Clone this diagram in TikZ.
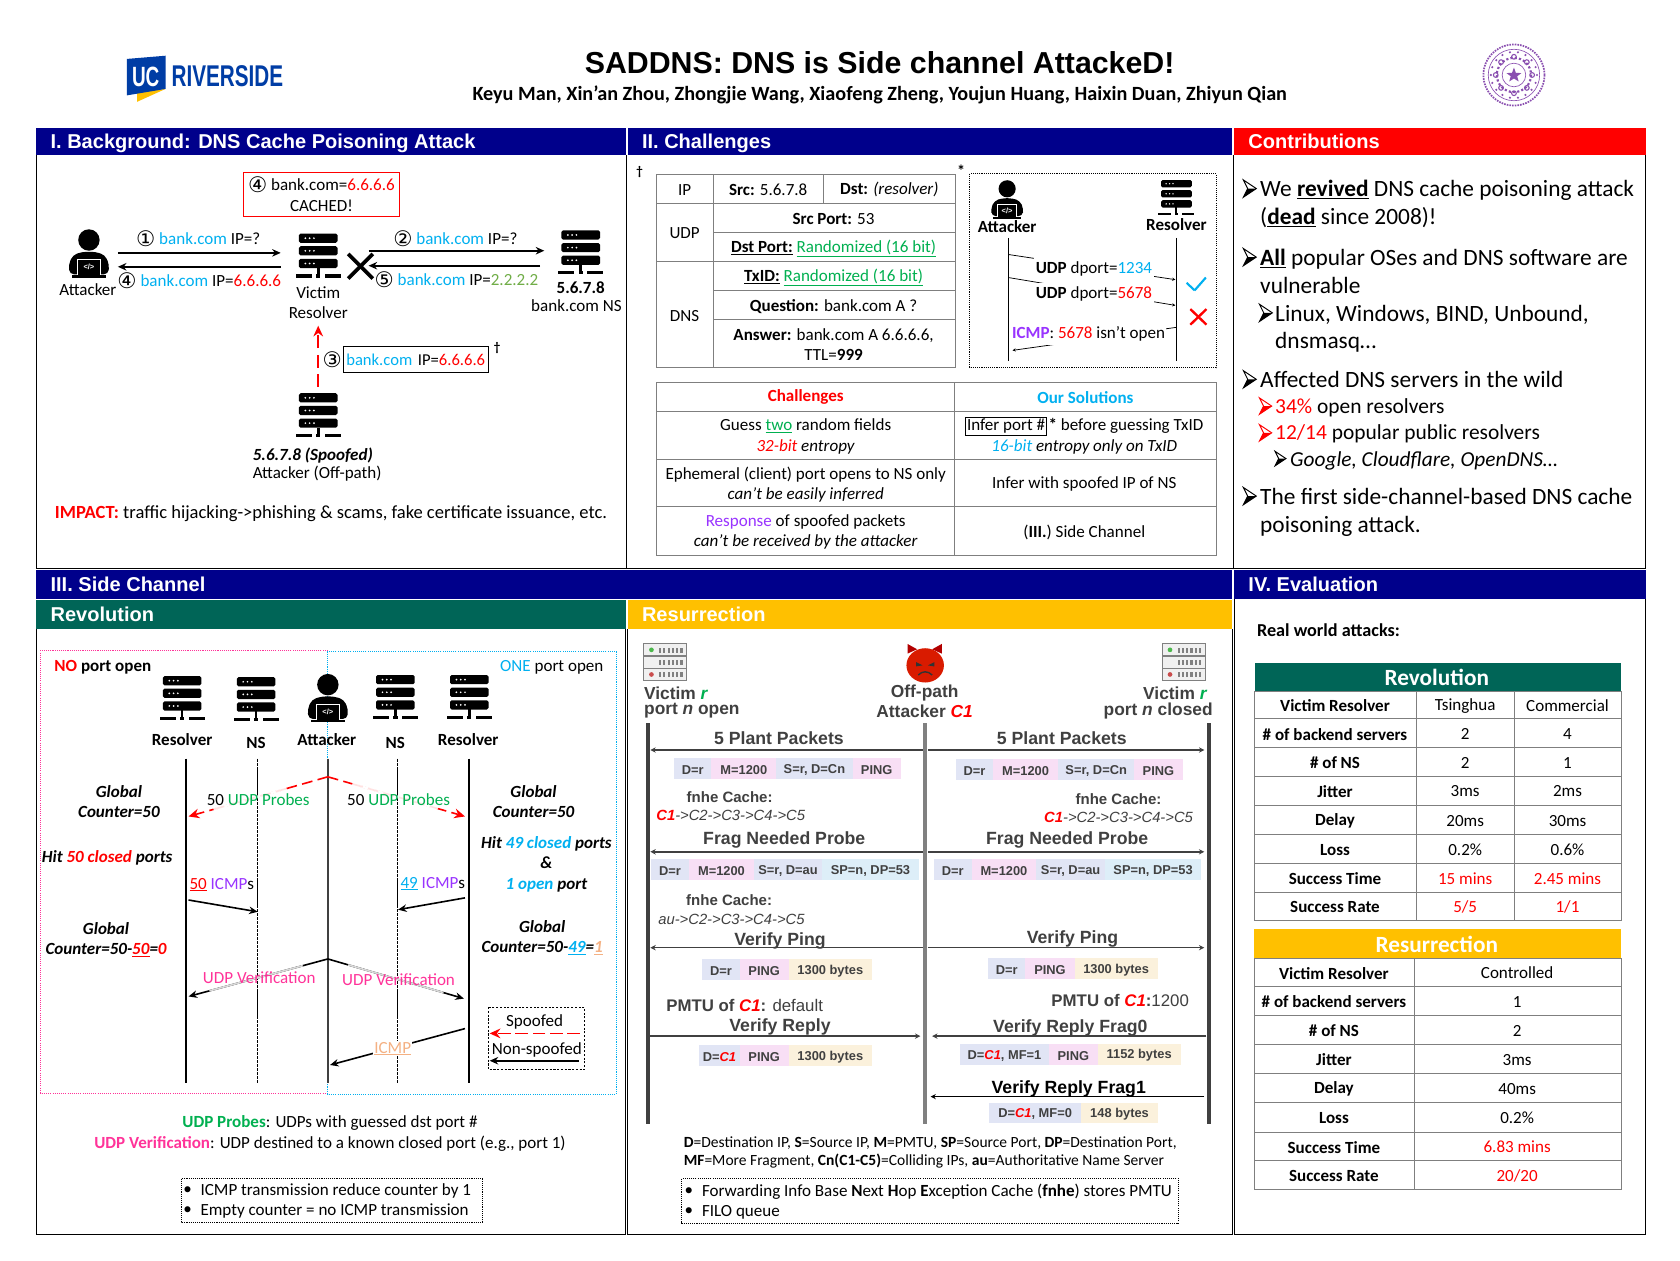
\documentclass[tikz,border=0pt]{standalone}
\usepackage{fontspec}
\setmainfont{Carlito}
\newfontfamily\arial{Liberation Sans}
\newfontfamily\djv{DejaVu Sans}
\usetikzlibrary{arrows.meta,calc}
\definecolor{hblue}{HTML}{00008B}
\definecolor{hgreen}{HTML}{006557}
\definecolor{hgold}{HTML}{FFC000}
\definecolor{cy}{HTML}{00B0F0}
\definecolor{gn}{HTML}{00B050}
\definecolor{lg}{HTML}{70AD47}
\definecolor{pu}{HTML}{9933FF}
\definecolor{pk}{HTML}{FF3399}
\definecolor{og}{HTML}{F4B183}
\definecolor{lav}{HTML}{E1E5F5}
\definecolor{pkb}{HTML}{F8DFF5}
\definecolor{bei}{HTML}{FBF1DC}
\definecolor{lbl}{HTML}{DDEEF8}
\definecolor{tl}{HTML}{7F7F7F}
\definecolor{ucb}{HTML}{003DA5}
\definecolor{seal}{HTML}{8A4FB0}
\definecolor{dt}{HTML}{404040}
\newcommand\fsz[2]{\fontsize{#1}{#2}\selectfont}
\newcounter{tn}\newcounter{cn}
\newcommand\N[4][]{\stepcounter{tn}\node[txt,#1] (t\thetn) at (#2) {#3#4};}
\newcommand\Cn[3][]{\stepcounter{cn}\coordinate (a\thecn) at (#2);\coordinate (b\thecn) at (#3);\draw[#1] (a\thecn)--(b\thecn);}
\newcommand\Ov[3]{\draw[#1] ($(a\thecn)!#2!(b\thecn)$)--($(a\thecn)!#3!(b\thecn)$);}
\newcommand\cd[1]{\raisebox{-1.6pt}{\djv\fsz{20}{19}#1}}
\newcommand\bk{\textcolor{cy}{bank.com}}
\newcommand\rd[1]{\textcolor{red}{#1}}
\newcommand\Hd[6]{\fill[#5] (#1,#2) rectangle (#3,#4);\N[anchor=base west,text=white,font=\arial\bfseries\fsz{18.7}{22}]{#1+13,{(#2+#4)/2+6}}{}{#6}}
\newcommand\Bnd[6]{\fill[#5] (#1,#3) rectangle (#2,#4);\N[band]{{(#1+#2)/2},{(#3+#4)/2}}{}{#6}}
\newcommand\Bul[4][black]{\begin{scope}[shift={(#2,#3)},scale=#4]\draw[#1,line width=.9pt,fill=white,line join=miter] (0,-8)--(12,0)--(0,8)--(4,0)--cycle;\fill[#1] (0,8)--(12,0)--(4,0)--cycle;\end{scope}}
\newcommand\CC{->C2->C3->C4->C5}
\tikzset{
 x=1pt,y=-1pt,
 txt/.style={inner sep=0pt,align=center,yshift=-.7pt,font=\fsz{15.9}{19}},
 bi/.style={font=\bfseries\itshape\fsz{15.9}{19}},
 band/.style={txt,font=\arial\bfseries\fsz{12}{13},text=dt},
 res/.style={txt,font=\arial\bfseries\fsz{16.5}{18},text=dt},
 lab/.style={font=\arial\bfseries\fsz{16.2}{18},text=dt},
 cch/.style={font=\arial\bfseries\fsz{14}{16}},
 cci/.style={font=\arial\itshape\fsz{13.8}{16}},
 rule/.style={tl,line width=.9pt},
 arr/.style={line width=1.5pt,-{Stealth[length=8pt,width=7pt]}},
 thinarr/.style={line width=.7pt},
 redarr/.style={line width=1.5pt,red,dash pattern=on 12pt off 6pt,-{Stealth[length=10pt,width=9pt]}},
 rarr/.style={line width=1.4pt,dt,-{Stealth[length=5pt,width=5pt]}},
 srv/.pic={
  \foreach \q in {0,11.8,23.6}{\fill[black,rounded corners=1.5pt] (-18,\q) rectangle (18,\q+8.6);
   \foreach \w in {-12,-8,-4}{\fill[white] (\w,\q+4.3) circle (.9);}}
  \fill (-1.2,32) rectangle (1.2,39);
  \fill (-21,38) rectangle (-6,41);\fill (-2,38) rectangle (2,41);\fill (6,38) rectangle (21,41);
 },
 atk/.pic={
  \fill (0,-11) circle (10);
  \fill[rounded corners=4pt] (-18,21) -- (-19,12) -- (-15,3) -- (-6,0) -- (6,0) -- (15,3) -- (19,12) -- (18,21) -- cycle;
  \fill[black,draw=white,line width=.8pt] (-11,7) rectangle (11,22);
  \fill (-16,22) rectangle (16,24);
  \node[inner sep=0pt,text=white,font=\arial\bfseries\fsz{7}{7}] at (0,14.5) {</>};
 },
 gsrv/.pic={
  \foreach \q in {0,11.5,23}{\draw[gray,fill=gray!12,line width=1pt] (-20,\q) rectangle (20,\q+11);
   \foreach \w in {-6,-2,2,6,10,14}{\fill[gray] (\w,\q+3.5) rectangle (\w+2,\q+8);}}
  \fill[green!60!black!70] (-13,5.5) circle (2.2);\fill[red!70!black!70] (-13,28.5) circle (2.2);
 },
}
\begin{document}
\begin{tikzpicture}
\path[use as bounding box,fill=white] (0,0) rectangle (1568,1176);
% title
\N[font=\arial\bfseries\fsz{28.3}{30}]{821,58}{}{SADDNS: DNS is Side channel AttackeD!}
\N[font=\bfseries\fsz{18.85}{20}]{821,87.5}{}{Keyu Man, Xin’an Zhou, Zhongjie Wang, Xiaofeng Zheng, Youjun Huang, Haixin Duan, Zhiyun Qian}
% logo
\fill[hgold] (128,95) -- (154.5,83) -- (128,86) -- cycle;
\fill[ucb] (118.5,55) -- (154.5,52) -- (154.5,83) -- (118.5,89) -- cycle;
\N[text=white,font=\arial\bfseries\fsz{26}{28},xscale=.68]{136,71}{}{UC}
\N[anchor=west,text=ucb,font=\arial\bfseries\fsz{28}{30},xscale=.69]{160,70}{}{RIVERSIDE}
% seal
\draw[seal,line width=1.6pt,dash pattern=on 1.5pt off 1pt] (1413,70) circle (28.5);
\draw[seal,line width=.6pt] (1413,70) circle (24);
\draw[seal,line width=2pt,dash pattern=on 2pt off 2pt] (1413,70) circle (16);
\draw[seal,line width=.6pt] (1413,70) circle (11);
\foreach \a in {0,45,...,315}{\draw[seal,line width=1pt] ($(1413,70)+(\a:17)$) circle (2.2);}
\foreach \a in {0,20,...,340}{\fill[seal] ($(1413,70)+(\a:21.5)$) circle (1.1);}
\fill[seal] (1413,63) -- (1414.8,68) -- (1420,68.2) -- (1416,71.2) -- (1417.4,76) -- (1413,73.3) -- (1408.6,76) -- (1410,71.2) -- (1406,68.2) -- (1411.2,68) -- cycle;
% headers
\Hd{34}{119}{584}{145}{hblue}{I. Background: DNS Cache Poisoning Attack}
\Hd{586}{119}{1150}{145}{hblue}{II. Challenges}
\Hd{1152}{119}{1536}{145}{red}{Contributions}
\Hd{34}{532}{1150}{559}{hblue}{III. Side Channel}
\Hd{1152}{532}{1536}{559}{hblue}{IV. Evaluation}
\Hd{34}{560}{584}{587}{hgreen}{Revolution}
\Hd{586}{560}{1150}{587}{hgold}{Resurrection}
% frames
\draw[line width=1.1pt] (34,145) -- (34,530.5) -- (1536,530.5) -- (1536,145);
\draw[line width=.8pt] (585,145) -- (585,530.5);
\draw[line width=1.1pt] (1151,145) -- (1151,530.5);
\draw[line width=1.1pt] (34,587) -- (34,1152) -- (584,1152) -- (584,587);
\draw[line width=1.1pt] (586,587) -- (586,1152) -- (1150,1152) -- (1150,587);
\draw[line width=1.1pt] (1152,559) -- (1152,1152) -- (1536,1152) -- (1536,559);
% ---------- I
\draw[red,line width=1pt] (227,161) rectangle (373,202);
\N{300,180.5}{}{\cd{④} bank.com=\rd{6.6.6.6}\\CACHED!}
\pic at (83,235) {atk};
\N{82,270}{}{Attacker}
\Cn[arr]{110,236}{262,236}
\N{185,222}{}{\cd{①} \bk{} IP=?}
\Cn[arr]{262,249}{110,249}
\N{186,261}{}{\cd{④} \bk{} IP=\rd{6.6.6.6}}
\pic at (297,218) {srv};
\N{297,282}{}{Victim\\Resolver}
\Cn[line width=3.5pt]{325,237}{348,260}
\Cn[line width=3.5pt]{348,237}{325,260}
\Cn[arr]{344,234}{508,234}
\N{425,222}{}{\cd{②} \bk{} IP=?}
\Cn[arr]{504,248}{344,248}
\N{426,260}{}{\cd{⑤} \bk{} IP=\textcolor{lg}{2.2.2.2}}
\pic at (542,215) {srv};
\N{542,268}{}{\textbf{5.6.7.8}}
\N{538,285}{}{bank.com NS}
\Cn[redarr]{297,361}{297,304}
\N{310,335}{}{\cd{③}}
\N[draw,line width=.9pt,minimum height=24pt,text width=135pt,font=\fsz{15.5}{19}]{388,335}{}{\bk{} IP=\rd{6.6.6.6}}
\N[font=\bfseries\fsz{12}{12}]{464,324}{}{†}
\pic at (297,367) {srv};
\N{292,424}{}{\textbf{\textit{5.6.7.8 (Spoofed)}}}
\N{296,441}{}{Attacker (Off-path)}
\N[anchor=west,font=\fsz{17.3}{19}]{51,479}{}{\rd{\textbf{IMPACT:}} traffic hijacking->phishing \& scams, fake certificate issuance, etc.}
% ---------- II table 1
\N[font=\bfseries\fsz{12}{12}]{597,160}{}{†}
\N[font=\bfseries\fsz{15}{15}]{897,159}{}{*}
\draw[rule] (613,163) rectangle (892,343);
\draw[rule] (666,163) -- (666,343);
\draw[rule] (769,163) -- (769,190);
\draw[rule] (613,190) -- (892,190);
\draw[rule] (666,217) -- (892,217);
\draw[rule] (613,244) -- (892,244);
\draw[rule] (666,271.5) -- (892,271.5);
\draw[rule] (666,298.5) -- (892,298.5);
\N{639,176.5}{}{IP}
\N{717,176.5}{}{\textbf{Src:} 5.6.7.8}
\N{830,176.5}{}{\textbf{Dst:} \textit{(resolver)}}
\N{639,217}{}{UDP}
\N{778,203.5}{}{\textbf{Src Port:} 53}
\N{778,231}{}{\underline{\textbf{Dst Port:}} \textcolor{gn}{\underline{Randomized (16 bit)}}}
\N{639,294}{}{DNS}
\N{778,258}{}{\underline{\textbf{TxID:}} \textcolor{gn}{\underline{Randomized (16 bit)}}}
\N{778,285}{}{\textbf{Question:} bank.com A ?}
\N{778,321}{}{\textbf{Answer:} bank.com A 6.6.6.6,\\TTL=\textbf{999}}
% dotted box
\draw[line width=.9pt,dash pattern=on 1pt off 1pt] (905,162) rectangle (1135,343);
\pic[scale=.8] at (940,185) {atk};
\N{940,211}{}{\textbf{Attacker}}
\pic[scale=.8] at (1098,168) {srv};
\N{1098,209}{}{\textbf{Resolver}}
\coordinate (la) at (941,222);\coordinate (lb) at (941,337);\draw[line width=.9pt] (la)--(lb);
\coordinate (lc) at (1098,222);\coordinate (ld) at (1098,337);\draw[line width=.9pt] (lc)--(ld);
\Cn[thinarr,-{Stealth[length=3pt,width=3pt]}]{941,237.5}{1097,261}
\N[fill=white,minimum height=22pt,inner xsep=2pt]{1021,250}{}{\textbf{UDP} dport=\textcolor{cy}{1234}}
\Cn[thinarr,-{Stealth[length=3pt,width=3pt]}]{941,259}{1097,285}
\N[fill=white,minimum height=22pt,inner xsep=2pt]{1021,274}{}{\textbf{UDP} dport=\rd{5678}}
\Cn[thinarr,-{Stealth[length=3pt,width=3pt]}]{1098,305.5}{945,327}
\N[fill=white,minimum height=20pt,inner xsep=1pt]{1016,311}{}{\textcolor{pu}{\textbf{ICMP}}: \rd{5678} isn’t open}
\Cn[cy,line width=2pt]{1107.5,264}{1115,271}
\Cn[cy,line width=2pt]{1115,271}{1125.5,259}
\Cn[red,line width=2.2pt]{1111,288.5}{1126,303}
\Cn[red,line width=2.2pt]{1126,288.5}{1111,303}
% table 2
\draw[rule] (613,357) rectangle (1135,518);
\draw[rule] (891,357) -- (891,518);
\foreach \q in {384,429,473}{\draw[rule] (613,\q) -- (1135,\q);}
\N{752,370}{}{\rd{\textbf{Challenges}}}
\N{1013,370}{}{\textcolor{cy}{\textbf{Our Solutions}}}
\N{752,406.5}{}{Guess \textcolor{gn}{\underline{two}} random fields\\\textit{\rd{32-bit} entropy}}
\N[draw,line width=.8pt,inner sep=1.5pt]{939,397}{}{Infer port \#}
\N[anchor=west]{978.5,397}{}{\textbf{*} before guessing TxID}
\N{1012,416}{}{\textit{\textcolor{cy}{16-bit} entropy only on TxID}}
\N{752,451.5}{}{Ephemeral (client) port opens to NS only\\\textit{can’t be easily inferred}}
\N{1012,451}{}{Infer with spoofed IP of NS}
\N{752,496}{}{\textcolor{pu}{Response} of spoofed packets\\\textit{can’t be received by the attacker}}
\N{1012,496}{}{(\textbf{III.}) Side Channel}
% ---------- Contributions
\newcommand\CL[3][21.8]{\N[anchor=base west,font=\fsz{#1}{#1}]{#2}{}{#3}}
\Bul{1160.5}{176}{1}\Bul{1160.5}{240}{1}\Bul{1175.5}{292}{1}\Bul{1160.5}{354}{1}\Bul{1160.5}{463}{1}
\Bul[red]{1175.5}{379}{.95}\Bul[red]{1175.5}{404}{.95}\Bul{1190}{428}{.85}
\CL{1176,183}{We \underline{\textbf{revived}} DNS cache poisoning attack}
\CL{1176,209}{(\underline{\textbf{dead}} since 2008)!}
\CL{1176,247}{\underline{\textbf{All}} popular OSes and DNS software are}
\CL{1176,273}{vulnerable}
\CL{1190,299}{Linux, Windows, BIND, Unbound,}
\CL{1190,325}{dnsmasq…}
\CL{1176,361}{Affected DNS servers in the wild}
\CL[20]{1190,385.5}{\rd{34\%} open resolvers}
\CL[20]{1190,409.5}{\rd{12/14} popular public resolvers}
\CL[19.9]{1204,434.5}{\textit{Google, Cloudflare, OpenDNS…}}
\CL{1176,470}{The first side-channel-based DNS cache}
\CL{1176,496}{poisoning attack.}
% ---------- III Revolution
\draw[pk,line width=.7pt,dash pattern=on 1pt off 1pt] (38,607) rectangle (306,1020);
\draw[cy,line width=.7pt,dash pattern=on 1pt off 1pt] (306,608) rectangle (575,1021);
\N{96,622}{}{\rd{\textbf{NO}} \textbf{port open}}
\N{515,622}{}{\textcolor{cy}{ONE} port open}
\pic at (170,631) {srv};
\pic at (239,632) {srv};
\pic at (369,630) {srv};
\pic at (438,630) {srv};
\pic at (306,650) {atk};
\N{170,690}{}{\textbf{Resolver}}
\N{239,693}{}{\textbf{NS}}
\N{305,690}{}{\textbf{Attacker}}
\N{369,693}{}{\textbf{NS}}
\N{437,690}{}{\textbf{Resolver}}
\coordinate (r1) at (173.5,708);\coordinate (r1e) at (173.5,1011);\draw[line width=1.2pt] (r1)--(r1e);
\coordinate (r2) at (240.5,708);\coordinate (r2e) at (240.5,1011);\draw[line width=.7pt,dash pattern=on 3pt off .7pt] (r2)--(r2e);
\coordinate (r3) at (306,708);\coordinate (r3e) at (306,1011);\draw[line width=1.5pt,dt] (r3)--(r3e);
\coordinate (r4) at (371,708);\coordinate (r4e) at (371,1011);\draw[line width=.7pt,dash pattern=on 3pt off .7pt] (r4)--(r4e);
\coordinate (r5) at (437.7,708);\coordinate (r5e) at (437.7,1011);\draw[line width=1.2pt] (r5)--(r5e);
\Cn[redarr,dash pattern=on 10pt off 5pt]{306,725}{176,762}
\Ov{white,line width=2.4pt}{.3}{.82}
\Ov{pink!45,line width=1.5pt,dash pattern=on 10pt off 5pt}{.3}{.82}
\Cn[redarr,dash pattern=on 10pt off 5pt]{306,725}{434,762}
\Ov{white,line width=2.4pt}{.18}{.8}
\Ov{pink!45,line width=1.5pt,dash pattern=on 10pt off 5pt}{.18}{.8}
\N{241,746}{}{50 \textcolor{gn}{UDP Probes}}
\N{372,746}{}{50 \textcolor{gn}{UDP Probes}}
\N[bi]{111,747.5}{}{Global\\Counter=50}
\N[bi]{100,800}{}{Hit \rd{50 closed} ports}
\N[bi]{99,876}{}{Global\\Counter=50-\rd{\underline{50}}=\rd{0}}
\N{207,825}{}{\rd{\underline{50}} \textcolor{pu}{ICMP}s}
\Cn[arr]{176,840}{240.5,851}
\N{404,824}{}{\textcolor{cy}{\underline{49}} \textcolor{pu}{ICMP}s}
\Cn[arr]{434,838}{371.5,849}
\N[bi]{498,747.5}{}{Global\\Counter=50}
\N[bi]{510,806}{}{Hit \textcolor{cy}{49 closed} ports\\\&\\\textcolor{cy}{1 open} port}
\N[bi]{506,874.5}{}{Global\\Counter=50-\textcolor{cy}{\underline{49}}=\textcolor{og}{\underline{1}}}
\Cn[arr]{306,895}{176,930}
\Ov{gray!30,line width=1.6pt}{.18}{.85}
\Cn[arr]{306,895}{433,932}
\Ov{gray!30,line width=1.6pt}{.15}{.85}
\N{242,912}{}{\textcolor{pk}{UDP Verification}}
\N{372,914}{}{\textcolor{pk}{UDP Verification}}
\Cn[arr]{434,960}{308,994}
\N[fill=white,inner sep=1pt]{366.5,978}{}{\textcolor{og}{\underline{ICMP}}}
\draw[line width=.7pt,dash pattern=on 2pt off 1.5pt] (456,940) rectangle (545.5,998.5);
\N{499,953}{}{Spoofed}
\Cn[redarr,dash pattern=on 12pt off 4pt]{541,964.5}{457,964.5}
\N{501,979}{}{Non-spoofed}
\Cn[arr]{540,990}{457,990}
\N{308,1047.5}{}{\textcolor{gn}{\textbf{UDP Probes}}: UDPs with guessed dst port \#}
\N{308,1066.5}{}{\textcolor{pk}{\textbf{UDP Verification}}: UDP destined to a known closed port (e.g., port 1)}
\draw[line width=.7pt,dash pattern=on 1pt off 1pt] (169,1100) rectangle (450,1141);
\N[anchor=west]{187,1111}{}{ICMP transmission reduce counter by 1}
\N[anchor=west]{187,1130}{}{Empty counter = no ICMP transmission}
\N{175,1110.5}{}{•}\N{175,1129.5}{}{•}
% ---------- Resurrection
\pic at (621,601) {gsrv};
\pic at (1105,601) {gsrv};
\fill[red!70!black] (847,610) -- (847,601) -- (856,606) -- cycle;
\fill[red!70!black] (879,610) -- (879,601) -- (870,606) -- cycle;
\fill[red!75!orange!85!black] (863.5,621) ellipse (17.5 and 16);
\fill[black!80] (855,618) -- (861,621) -- (855,622) -- cycle;\fill[black!80] (872,618) -- (866,621) -- (872,622) -- cycle;
\draw[black!80,line width=1.3pt] (857,630) .. controls (861,626) and (866,626) .. (870,630);
\N[anchor=west,lab]{601,646}{}{Victim \textcolor{gn}{\textit{r}}}
\N[anchor=west,lab]{601,663}{}{port \textit{n} open}
\N[lab]{863,646}{}{Off-path}
\N[lab]{863,663}{}{Attacker \rd{\textit{C1}}}
\N[anchor=east,lab]{1127,646}{}{Victim \textcolor{gn}{\textit{r}}}
\N[anchor=east,lab]{1132,663}{}{port \textit{n} closed}
\coordinate (v1) at (605,675);\coordinate (v1e) at (605,1049);\draw[line width=3.5pt,dt] (v1)--(v1e);
\coordinate (v2) at (863.5,675);\coordinate (v2e) at (863.5,1049);\draw[line width=4pt,gray] (v2)--(v2e);
\coordinate (v3) at (1128.5,675);\coordinate (v3e) at (1128.5,1049);\draw[line width=3.5pt,dt] (v3)--(v3e);
% row 1
\N[res]{727,688}{}{5 Plant Packets}
\N[res]{991,688}{}{5 Plant Packets}
\Cn[rarr]{861,700}{607,700}
\Cn[rarr]{866,700}{1124,700}
\Bnd{629}{664}{707}{727}{lav}{D=r}
\Bnd{664}{724.5}{707}{727}{pkb}{M=1200}
\Bnd{724.5}{795.7}{707}{727}{lav}{S=r, D=Cn}
\Bnd{795.7}{840.7}{707}{727}{pkb}{PING}
\Bnd{892}{927}{708}{728}{lav}{D=r}
\Bnd{927}{987.5}{708}{728}{pkb}{M=1200}
\Bnd{987.5}{1058.7}{708}{728}{lav}{S=r, D=Cn}
\Bnd{1058.7}{1103.7}{708}{728}{pkb}{PING}
\N[res,cch]{681,743}{}{fnhe Cache:}
\N[res,cci]{682,760}{}{\rd{\textbf{C1}}\CC}
\N[res,cch]{1044,744}{}{fnhe Cache:}
\N[res,cci]{1044,761.5}{}{\rd{\textbf{C1}}\CC}
% row 2
\N[res]{732,783}{}{Frag Needed Probe}
\N[res]{996,783}{}{Frag Needed Probe}
\Cn[rarr]{861,795}{607,795}
\Cn[rarr]{866,795}{1124,795}
\Bnd{607.5}{643.3}{802}{821}{lav}{D=r}
\Bnd{643.3}{703.4}{802}{821}{pkb}{M=1200}
\Bnd{703.4}{767.6}{802}{821}{lav}{S=r, D=au}
\Bnd{767.6}{857.3}{802}{821}{lbl}{SP=n, DP=53}
\Bnd{871.3}{907}{802}{821}{lav}{D=r}
\Bnd{907}{967}{802}{821}{pkb}{M=1200}
\Bnd{967}{1031.5}{802}{821}{lav}{S=r, D=au}
\Bnd{1031.5}{1121}{802}{821}{lbl}{SP=n, DP=53}
\N[res,cch]{680.5,839}{}{fnhe Cache:}
\N[res,cci]{682.7,856.6}{}{au\CC}
% row 3
\N[res]{728,876.5}{}{Verify Ping}
\N[res]{1001,875}{}{Verify Ping}
\Cn[rarr]{861,884.5}{607,884.5}
\Cn[rarr]{866,884.5}{1124,884.5}
\Bnd{655.5}{690.5}{895}{915}{lav}{D=r}
\Bnd{690.5}{736}{895}{915}{pkb}{PING}
\Bnd{736}{814}{895}{915}{bei}{1300 bytes}
\Bnd{922.3}{957}{894}{913.5}{lav}{D=r}
\Bnd{957}{1003}{894}{913.5}{pkb}{PING}
\Bnd{1003}{1080.5}{894}{913.5}{bei}{1300 bytes}
\N[res,font=\arial\bfseries\fsz{15.7}{18}]{695,937}{}{PMTU of \rd{\textit{C1}}: \textmd{default}}
\N[res,font=\arial\bfseries\fsz{15.7}{18}]{1045.5,932}{}{PMTU of \rd{\textit{C1}}:\textmd{1200}}
% row 4
\N[res]{728,957.5}{}{Verify Reply}
\N[res]{999,958}{}{Verify Reply Frag0}
\Cn[rarr]{607,967}{859,967}
\Cn[rarr]{1126,967}{870,967}
\Bnd{652.5}{690.5}{975}{995}{lav}{D=\rd{\textit{C1}}}
\Bnd{690.5}{736}{975}{995}{pkb}{PING}
\Bnd{736}{814}{975}{995}{bei}{1300 bytes}
\Bnd{896}{979}{974}{993.6}{lav}{D=\rd{\textit{C1}}, MF=1}
\Bnd{979}{1024.5}{974}{993.6}{pkb}{PING}
\Bnd{1024.5}{1102}{974}{993.6}{bei}{1152 bytes}
\N[res,text=black]{997.5,1015}{}{Verify Reply Frag1}
\Cn[line width=1.1pt,-{Stealth[length=5pt,width=5pt]}]{1124,1023.5}{868.5,1023.5}
\Bnd{923}{1009.3}{1029.5}{1048}{lav}{D=\rd{\textit{C1}}, MF=0}
\Bnd{1009.3}{1080.5}{1029.5}{1048}{bei}{148 bytes}
\N[anchor=west,font=\fsz{14.5}{16}]{638,1066}{}{\textbf{D}=Destination IP, \textbf{S}=Source IP, \textbf{M}=PMTU, \textbf{SP}=Source Port, \textbf{DP}=Destination Port,}
\N[anchor=west,font=\fsz{14.5}{16}]{638,1082.5}{}{\textbf{MF}=More Fragment, \textbf{Cn(C1-C5)}=Colliding IPs, \textbf{au}=Authoritative Name Server}
\draw[line width=.7pt,dash pattern=on 1pt off 1pt] (636,1100) rectangle (1100,1142);
\N{643,1111}{}{•}\N{643,1130}{}{•}
\N[anchor=west]{655,1111.5}{}{Forwarding Info Base \textbf{N}ext \textbf{H}op \textbf{E}xception Cache (\textbf{fnhe}) stores PMTU}
\N[anchor=west]{655,1130.5}{}{FILO queue}
% ---------- IV
\N[anchor=west,font=\bfseries\fsz{17}{19}]{1173,587.5}{}{Real world attacks:}
\fill[hgreen] (1171,618.5) rectangle (1513,645);
\N[text=white,font=\bfseries\fsz{21.7}{23}]{1341,632}{}{Revolution}
\draw[rule] (1171,645) rectangle (1513,859.5);
\draw[rule] (1322,645) -- (1322,859.5);
\draw[rule] (1413.5,645) -- (1413.5,859.5);
\foreach \q in {671,697.6,724.8,752,779,806,833}{\draw[rule] (1171,\q) -- (1513,\q);}
\foreach \q/\ta/\tb/\tc in {658/Victim Resolver/Tsinghua/Commercial,684.5/\# of backend servers/2/4,711/\# of NS/2/1,738/Jitter/3ms/2ms,765.5/Delay/20ms/30ms,792.5/Loss/0.2\%/0.6\%}{
 \N{1246,\q}{}{\textbf{\ta}}\N{1367.5,\q}{}{\tb}\N{1463,\q}{}{\tc}}
\N{1246,819.5}{}{\textbf{Success Time}}\N{1367.5,819.5}{}{\rd{15 mins}}\N{1463,819.5}{}{\rd{2.45 mins}}
\N{1246,846}{}{\textbf{Success Rate}}\N{1367.5,846}{}{\rd{5/5}}\N{1463,846}{}{\rd{1/1}}
\fill[hgold] (1170,867) rectangle (1513,894.5);
\N[text=white,font=\bfseries\fsz{21.7}{23}]{1341,881}{}{Resurrection}
\draw[rule] (1171,894.5) rectangle (1513,1110);
\draw[rule] (1320,894.5) -- (1320,1110);
\foreach \q in {921,948,975,1002,1029,1056.5,1083}{\draw[rule] (1171,\q) -- (1513,\q);}
\foreach \q/\ta/\tb in {907.5/Victim Resolver/Controlled,934.5/\# of backend servers/1,961.5/\# of NS/2,988.5/Jitter/3ms,1015.5/Delay/40ms,1042.5/Loss/0.2\%}{
 \N{1245,\q}{}{\textbf{\ta}}\N{1416,\q}{}{\tb}}
\N{1245,1070}{}{\textbf{Success Time}}\N{1416,1070}{}{\rd{6.83 mins}}
\N{1245,1096.5}{}{\textbf{Success Rate}}\N{1416,1096.5}{}{\rd{20/20}}
\end{tikzpicture}
\end{document}
